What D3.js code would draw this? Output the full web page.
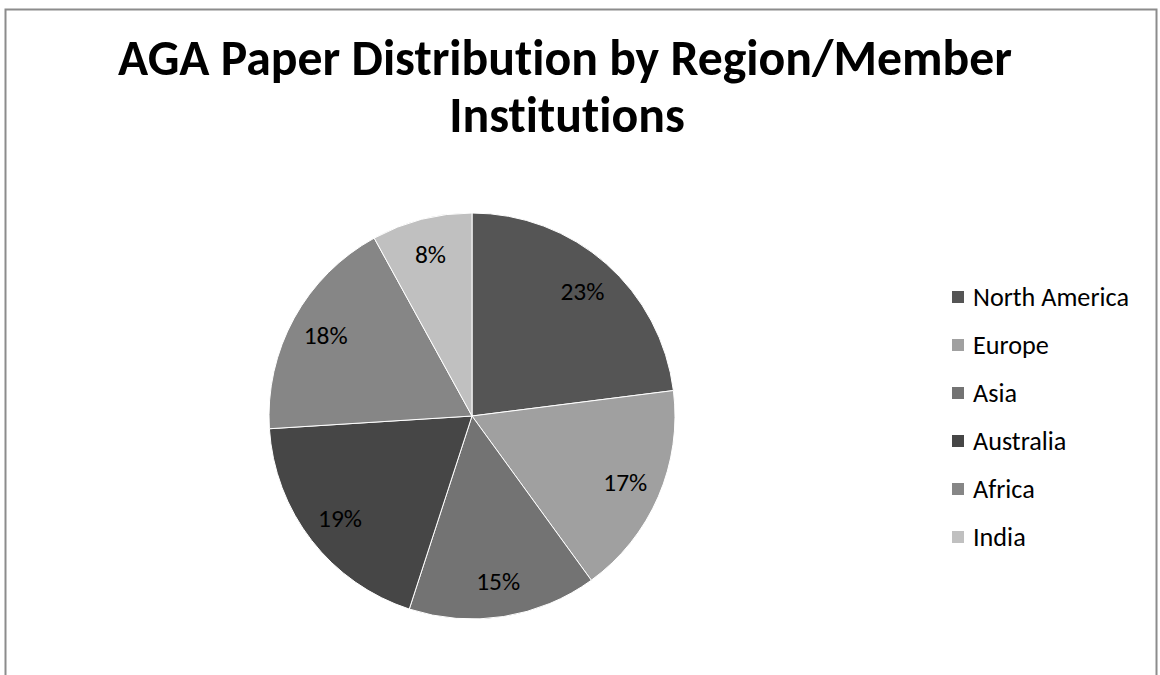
<!DOCTYPE html>
<html>
<head>
<meta charset="utf-8">
<script src="https://cdn.jsdelivr.net/npm/d3@7"></script>
<style>
  body { margin: 0; background: #fff; }
  svg { display: block; }
  text { font-variant-ligatures: none; font-feature-settings: "liga" 0; }
</style>
</head>
<body>
<svg id="chart" width="1160" height="675"></svg>
<script>
// data
var regions = ['North America', 'Europe', 'Asia', 'Australia', 'Africa', 'India'];
var shares = [23, 17, 15, 19, 18, 8];
var greys = ['#555555', '#a0a0a0', '#737373', '#464646', '#868686', '#c0c0c0'];
var titleLines = ['AGA Paper Distribution by Region/Member', 'Institutions'];

var fontFam = 'Calibri, Carlito, Lato, sans-serif';
var svg = d3.select('#chart');

// outer frame
svg.append('rect')
  .attr('x', 5.5).attr('y', 9.5)
  .attr('width', 1151).attr('height', 700)
  .attr('fill', '#fff')
  .attr('stroke', '#8c8c8c')
  .attr('stroke-width', 2);

// title, sized so first line matches the picture width
var title = svg.append('g');
var t1 = title.append('text')
  .attr('x', 565).attr('y', 75)
  .attr('text-anchor', 'middle')
  .attr('font-family', fontFam)
  .attr('font-weight', 'bold')
  .attr('font-size', 40)
  .text(titleLines[0]);
var tsize = 40 * 894 / t1.node().getComputedTextLength();
t1.attr('font-size', tsize);
title.append('text')
  .attr('x', 567).attr('y', 132)
  .attr('text-anchor', 'middle')
  .attr('font-family', fontFam)
  .attr('font-weight', 'bold')
  .attr('font-size', tsize)
  .text(titleLines[1]);

// pie
var cx = 472, cy = 416, r = 203;
var color = d3.scaleOrdinal().domain(regions).range(greys);
var pie = d3.pie().sort(null).value(function (d, i) { return shares[i]; });
var arcs = pie(regions);
var arc = d3.arc().innerRadius(0).outerRadius(r);
var labelArc = d3.arc().innerRadius(167).outerRadius(167);

var g = svg.append('g').attr('transform', 'translate(' + cx + ',' + cy + ')');
g.selectAll('path').data(arcs).enter().append('path')
  .attr('d', arc)
  .attr('fill', function (d) { return color(d.data); })
  .attr('stroke', '#fff')
  .attr('stroke-width', 1);

// measure sizes: "North America" ~156px, "23%" ~44px
var probe = svg.append('text').attr('font-family', fontFam).attr('font-size', 18).text('North America');
var lsize = 18 * 156 / probe.node().getComputedTextLength();
probe.text('23%');
var psize = 18 * 44 / probe.node().getComputedTextLength();
probe.remove();

g.selectAll('text').data(arcs).enter().append('text')
  .attr('transform', function (d) { return 'translate(' + labelArc.centroid(d) + ')'; })
  .attr('text-anchor', 'middle')
  .attr('dy', '0.35em')
  .attr('font-family', fontFam)
  .attr('font-size', psize)
  .attr('fill', '#000')
  .text(function (d, i) { return shares[i] + '%'; });

// legend
var ly = d3.scalePoint().domain(regions).range([297, 537]);
var leg = svg.append('g');
var item = leg.selectAll('g').data(regions).enter().append('g')
  .attr('transform', function (d) { return 'translate(952,' + ly(d) + ')'; });
item.append('rect')
  .attr('x', 0).attr('y', -6)
  .attr('width', 12).attr('height', 12)
  .attr('fill', function (d) { return color(d); });
item.append('text')
  .attr('x', 21).attr('dy', '0.35em')
  .attr('font-family', fontFam)
  .attr('font-size', lsize)
  .text(function (d) { return d; });
</script>
</body>
</html>
